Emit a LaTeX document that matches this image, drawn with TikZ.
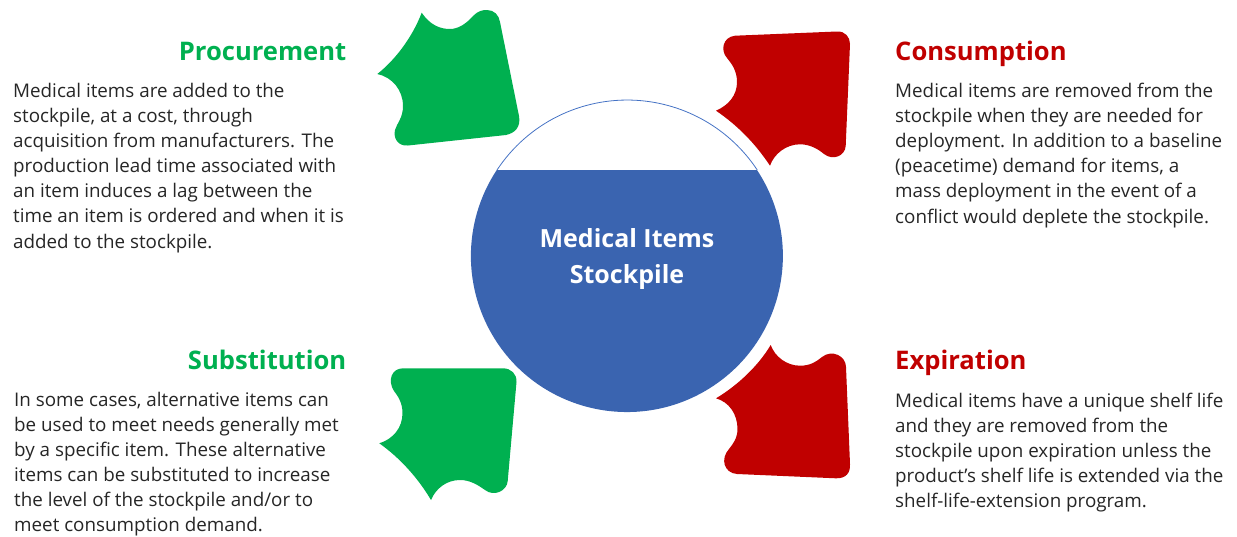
\documentclass[tikz,border=0pt]{standalone}
\usepackage{fontspec}
\setmainfont{Open Sans}
\definecolor{gr}{HTML}{00B050}
\definecolor{rd}{HTML}{C00000}
\definecolor{bl}{HTML}{3A64B0}
\definecolor{ln}{HTML}{4472C4}
\definecolor{tx}{HTML}{262626}
\tikzset{
 body/.style={anchor=north west,align=left,text=tx,inner sep=0pt,font=\fontsize{18.8}{25.1}\selectfont},
 head/.style={inner sep=0pt,font=\fontsize{25.6}{30}\selectfont\bfseries},
 title/.style={align=center,text=white,inner sep=0pt,font=\fontsize{25}{36}\selectfont\bfseries}
}
\begin{document}
\begin{tikzpicture}[x=1pt,y=-1pt]
\useasboundingbox (0,0) rectangle (1237,536);
% arrows
\fill[gr] (421.7,12.7) .. controls (430,25) and (440,29) .. (450,29) .. controls (458,29) and (466,24) .. (473,16) .. controls (478,11) and (482,10) .. (487,10) .. controls (494,10) and (499,15) .. (500,22) -- (519,116) .. controls (521,127) and (515,133) .. (506,135) -- (408,145.5) .. controls (398,146.5) and (393,138) .. (395,130) .. controls (397,123) and (403,118) .. (403,106) .. controls (403,90) and (392,77) .. (377.3,74) .. controls (395,60) and (412,38) .. (421.7,12.7) -- cycle;
\fill[rd] (716,110.7) .. controls (729,105) and (737,95) .. (737,82) .. controls (737,70) and (731,63) .. (727,58) .. controls (720,50) and (723,37) .. (735,35.7) -- (837,31.5) .. controls (845,31) and (850,37) .. (850,44) -- (845.7,146) .. controls (845,156) and (833,161) .. (824,154) .. controls (818,149) and (810,144.3) .. (800,144.3) .. controls (786,144.3) and (774,154) .. (770,165.7) .. controls (755,143) and (737,125) .. (716,110.7) -- cycle;
\fill[gr] (431,500) .. controls (436,488) and (447,480) .. (460,480) .. controls (470,480) and (478,485) .. (485,490) .. controls (494,497) and (507,491) .. (507.7,481) -- (516.5,382) .. controls (517,374) and (511,368.3) .. (503,368.3) -- (403,368.3) .. controls (392,368.3) and (387,380) .. (394,391) .. controls (398,396) and (402.5,403) .. (402.5,413) .. controls (402.5,428) and (393,439) .. (379.3,443.3) .. controls (400,458) and (418,478) .. (431,500) -- cycle;
\fill[rd] (770.7,345) .. controls (775,357) and (787,365.7) .. (800,365.7) .. controls (810,365.7) and (816,362) .. (822,357) .. controls (832,349) and (846,356) .. (846,367) -- (850,464) .. controls (850.5,473) and (846,478.5) .. (836,478.3) -- (737,474) .. controls (724,473) and (720,459) .. (729,449) .. controls (733,444) and (737.5,438) .. (737.5,429) .. controls (737.5,414) and (729,402) .. (716,398.3) .. controls (735,387) and (757,368) .. (770.7,345) -- cycle;
% stockpile
\fill[bl] (497,170) -- (757,170) arc[start angle=-33.47,end angle=213.47,radius=156] -- cycle;
\draw[ln,line width=0.8pt] (497,170) arc[start angle=213.47,end angle=326.53,radius=156];
\node[title,anchor=base] (t1) at (627,247) {Medical Items};
\node[title,anchor=base] (t2) at (627,283) {Stockpile};
% headings
\node[head,text=gr,anchor=base east] (h1) at (346.5,60.5) {Procurement};
\node[head,text=gr,anchor=base east] (h2) at (346.5,369.5) {Substitution};
\node[head,text=rd,anchor=base west] (h3) at (895,60.5) {Consumption};
\node[head,text=rd,anchor=base west] (h4) at (895,369.5) {Expiration};
% bodies
\node[body] (b1) at (13,83) {Medical items are added to the\\stockpile, at a cost, through\\acquisition from manufacturers. The\\production lead time associated with\\an item induces a lag between the\\time an item is ordered and when it is\\added to the stockpile.};
\node[body] (b2) at (14,392) {In some cases, alternative items can\\be used to meet needs generally met\\by a specific item. These alternative\\items can be substituted to increase\\the level of the stockpile and/or to\\meet consumption demand.};
\node[body] (b3) at (895,83) {Medical items are removed from the\\stockpile when they are needed for\\deployment. In addition to a baseline\\(peacetime) demand for items, a\\mass deployment in the event of a\\conflict would deplete the stockpile.};
\node[body] (b4) at (895,392.5) {Medical items have a unique shelf life\\and they are removed from the\\stockpile upon expiration unless the\\product’s shelf life is extended via the\\shelf-life-extension program.};
\end{tikzpicture}
\end{document}
